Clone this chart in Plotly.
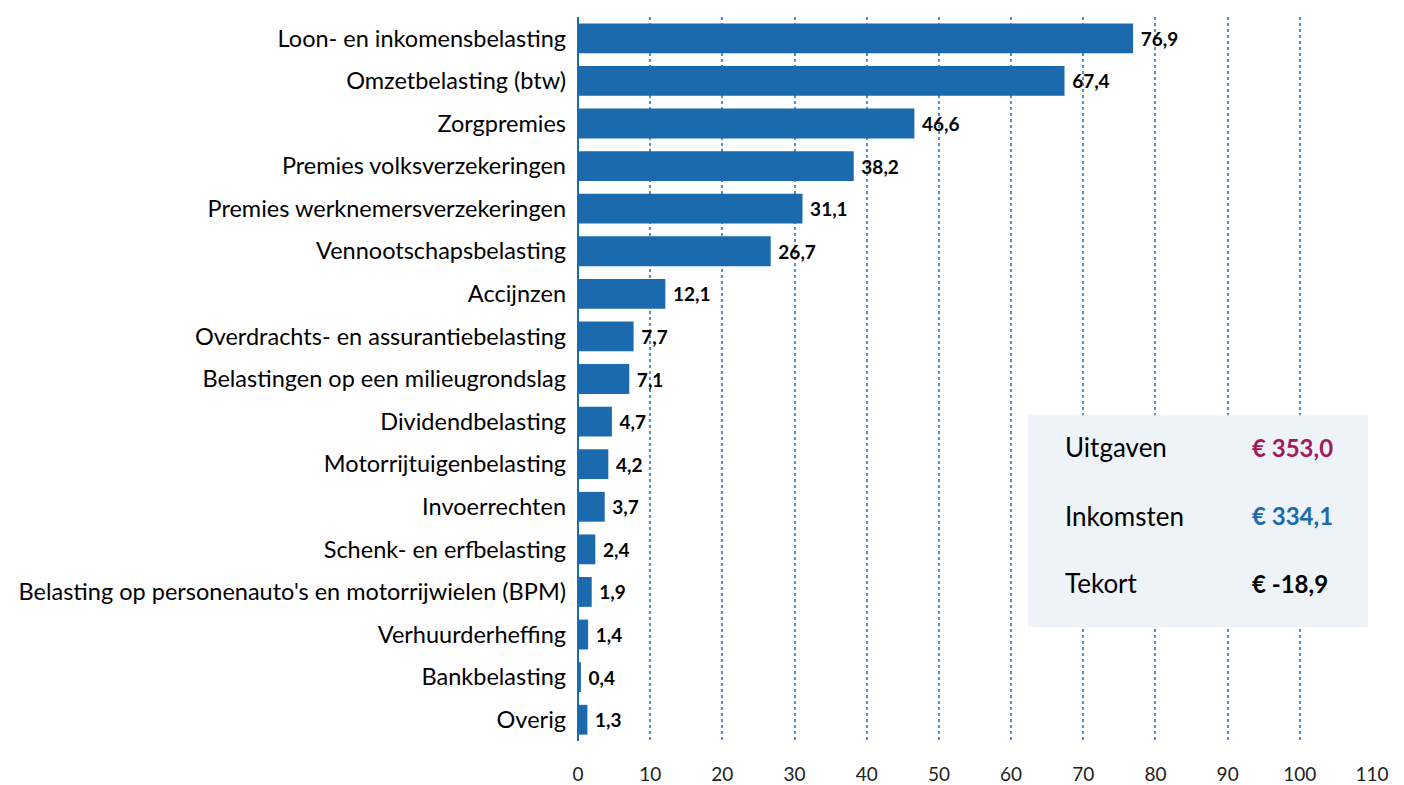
import plotly.graph_objects as go

categories = [
    "Loon- en inkomensbelasting",
    "Omzetbelasting (btw)",
    "Zorgpremies",
    "Premies volksverzekeringen",
    "Premies werknemersverzekeringen",
    "Vennootschapsbelasting",
    "Accijnzen",
    "Overdrachts- en assurantiebelasting",
    "Belastingen op een milieugrondslag",
    "Dividendbelasting",
    "Motorrijtuigenbelasting",
    "Invoerrechten",
    "Schenk- en erfbelasting",
    "Belasting op personenauto's en motorrijwielen (BPM)",
    "Verhuurderheffing",
    "Bankbelasting",
    "Overig",
]
values = [76.9, 67.4, 46.6, 38.2, 31.1, 26.7, 12.1, 7.7, 7.1, 4.7, 4.2, 3.7, 2.4, 1.9, 1.4, 0.4, 1.3]
x_ticks = [0, 10, 20, 30, 40, 50, 60, 70, 80, 90, 100, 110]

summary_labels = ["Uitgaven", "Inkomsten", "Tekort"]
summary_values = ["€ 353,0", "€ 334,1", "€ -18,9"]
summary_colors = ["#a3195b", "#1a6aad", "#000000"]

FONT = "Lato"
BAR = "#1a6aad"

labels = ["\u00a0" + f"{v:.1f}".replace(".", ",") for v in values]

fig = go.Figure(go.Bar(
    x=values, y=categories, orientation="h",
    marker=dict(color=BAR, line=dict(width=0)),
    text=labels, textposition="outside", cliponaxis=False,
    textfont=dict(family=FONT, size=19, color="#000000", weight="bold"),
))

fig.update_layout(
    width=1404, height=785,
    margin=dict(l=570, r=40, t=9, b=52, autoexpand=False),
    plot_bgcolor="white", paper_bgcolor="white",
    bargap=0.3, showlegend=False,
    font=dict(family=FONT, color="#000000"),
    xaxis=dict(
        range=[0, 110], tickvals=x_ticks, ticktext=[str(t) for t in x_ticks],
        showgrid=True, gridcolor="#4a92d4", griddash="dot", gridwidth=1.5,
        zeroline=True, zerolinecolor=BAR, zerolinewidth=2,
        tickfont=dict(family=FONT, size=19, color="#222222"),
        ticks="", ticklabelstandoff=20, fixedrange=True, automargin=False,
    ),
    yaxis=dict(
        autorange="reversed", showgrid=False,
        tickfont=dict(family=FONT, size=23.5, color="#000000"),
        ticks="", ticklabelstandoff=11, automargin=False,
    ),
)

fig.add_shape(type="rect", xref="paper", yref="paper",
              x0=0.567, x1=0.995, y0=0.157, y1=0.450,
              fillcolor="#eef3f8", line=dict(width=0), layer="above")

ys = [0.406, 0.311, 0.218]
for lab, val, col, yy in zip(summary_labels, summary_values, summary_colors, ys):
    fig.add_annotation(xref="paper", yref="paper", x=0.611, y=yy, text=lab,
                       showarrow=False, xanchor="left", yanchor="middle",
                       font=dict(family=FONT, size=26, color="#000000"))
    fig.add_annotation(xref="paper", yref="paper", x=0.846, y=yy, text=f"<b>{val}</b>",
                       showarrow=False, xanchor="left", yanchor="middle",
                       font=dict(family=FONT, size=24, color=col))

fig.write_html("out.html")
